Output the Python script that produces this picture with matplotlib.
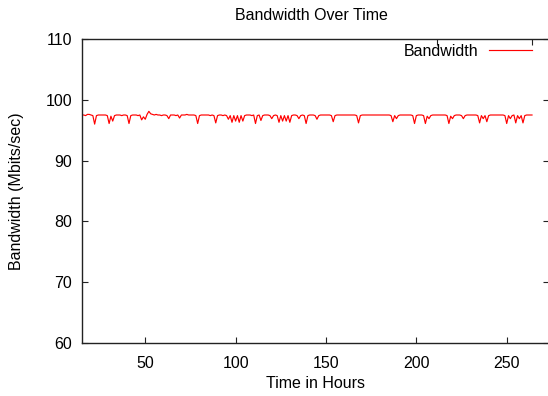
import matplotlib
matplotlib.use("Agg")
import matplotlib.pyplot as plt
import numpy as np

plt.rcParams['font.family'] = ['Liberation Sans', 'DejaVu Sans']

# Hours 15..264
hours = list(range(15, 265))
bandwidth = [
    # 15-24
    97.5, 97.5, 97.4, 97.6, 97.6, 97.5, 97.4, 96.0, 97.4, 97.5,
    # 25-34
    97.5, 97.5, 97.5, 97.5, 97.4, 96.1, 97.3, 96.5, 97.4, 97.5,
    # 35-44
    97.5, 97.5, 97.4, 97.5, 97.5, 97.4, 96.1, 97.4, 97.5, 97.5,
    # 45-54
    97.5, 97.4, 97.5, 96.7, 97.2, 96.8, 97.6, 98.1, 97.7, 97.6,
    # 55-64
    97.5, 97.6, 97.5, 97.5, 97.4, 97.5, 97.5, 97.4, 96.9, 97.5,
    # 65-74
    97.5, 97.5, 97.4, 97.5, 97.0, 97.5, 97.5, 97.5, 97.6, 97.5,
    # 75-84
    97.5, 97.5, 97.5, 97.4, 96.1, 97.4, 97.5, 97.5, 97.5, 97.5,
    # 85-94
    97.5, 97.4, 97.5, 97.4, 96.2, 97.4, 97.5, 97.5, 97.4, 97.5,
    # 95-104
    97.4, 96.8, 97.4, 96.3, 97.4, 96.5, 97.4, 96.3, 97.4, 96.5,
    # 105-114
    97.4, 97.5, 97.5, 97.5, 97.4, 97.5, 96.1, 97.4, 97.5, 96.6,
    # 115-124
    97.4, 97.5, 97.5, 97.5, 97.4, 96.9, 97.4, 97.5, 97.4, 96.3,
    # 125-134
    97.4, 96.5, 97.4, 96.5, 97.4, 96.3, 97.4, 97.5, 97.5, 97.4,
    # 135-144
    96.9, 97.4, 97.5, 97.4, 96.1, 97.4, 97.5, 97.5, 97.5, 97.4,
    # 145-154
    96.8, 97.4, 97.5, 97.5, 97.5, 97.5, 97.5, 97.5, 97.4, 96.4,
    # 155-164
    97.4, 97.5, 97.5, 97.5, 97.5, 97.5, 97.5, 97.5, 97.5, 97.5,
    # 165-174
    97.5, 97.5, 97.4, 96.2, 97.4, 97.5, 97.5, 97.5, 97.5, 97.5,
    # 175-184
    97.5, 97.5, 97.5, 97.5, 97.5, 97.5, 97.5, 97.5, 97.5, 97.5,
    # 185-194
    97.5, 97.4, 96.4, 97.4, 96.9, 97.4, 97.5, 97.5, 97.5, 97.5,
    # 195-204
    97.5, 97.5, 97.5, 97.4, 96.1, 97.4, 97.5, 97.5, 97.5, 97.4,
    # 205-214
    96.1, 97.3, 96.9, 97.4, 97.5, 97.5, 97.5, 97.5, 97.5, 97.5,
    # 215-224
    97.5, 97.5, 97.4, 96.1, 97.3, 96.9, 97.4, 97.5, 97.5, 97.5,
    # 225-234
    97.4, 96.9, 97.4, 97.5, 97.5, 97.5, 97.5, 97.5, 97.5, 97.4,
    # 235-244
    96.2, 97.4, 96.9, 97.4, 96.4, 97.4, 97.5, 97.5, 97.5, 97.5,
    # 245-254
    97.5, 97.5, 97.5, 97.5, 97.4, 96.1, 97.4, 96.9, 97.4, 97.5,
    # 255-264
    96.2, 97.4, 96.9, 97.4, 96.2, 97.4, 97.5, 97.5, 97.5, 97.5,
]

x_ticks = [50, 100, 150, 200, 250]
y_ticks = [60, 70, 80, 90, 100, 110]
top_ticks = [211.3, 263.9]

W, H = 548, 396
fig = plt.figure(figsize=(W / 100, H / 100), dpi=100)
left_px, right_px, top_px, bottom_px = 82, 549, 39, 343
ax = fig.add_axes([left_px / W, 1 - bottom_px / H,
                   (right_px - left_px) / W, (bottom_px - top_px) / H])

ax.plot(hours, bandwidth, color='#ff0000', lw=0.85, label='Bandwidth')
ax.set_xlim(15, 273.4)
ax.set_ylim(60, 110)
ax.set_xticks(x_ticks)
ax.set_yticks(y_ticks)

fs = 11.5
for s in ['left', 'bottom', 'top']:
    ax.spines[s].set_linewidth(1.0)
    ax.spines[s].set_color('#222222')
ax.spines['right'].set_visible(False)
ax.tick_params(axis='both', direction='in', length=4.5, width=0.8,
               labelsize=fs, pad=7.0, colors='#222222', labelcolor='black')
ax.tick_params(axis='x', pad=9.2)
ax.tick_params(axis='y', right=True, labelright=False)

sec = ax.secondary_xaxis('top')
sec.set_xticks(top_ticks)
sec.tick_params(direction='in', length=4.5, width=0.8, labeltop=False,
                colors='#222222')
sec.spines['top'].set_visible(False)

ax.set_xlabel('Time in Hours', fontsize=fs, labelpad=4)
ax.set_ylabel('Bandwidth (Mbits/sec)', fontsize=fs)
ax.yaxis.set_label_coords((24 - left_px) / (right_px - left_px), 0.5)

fig.text(311 / W, 1 - 15 / H, 'Bandwidth Over Time', ha='center', va='center',
         fontsize=fs)

ax.legend(loc='upper right', bbox_to_anchor=((531.7 - left_px) / (right_px - left_px),
                                              (bottom_px - 44) / (bottom_px - top_px)),
          frameon=False, markerfirst=False, fontsize=fs, borderpad=0,
          borderaxespad=0, handlelength=2.7, handletextpad=0.65)

fig.savefig('out.png', dpi=100)
